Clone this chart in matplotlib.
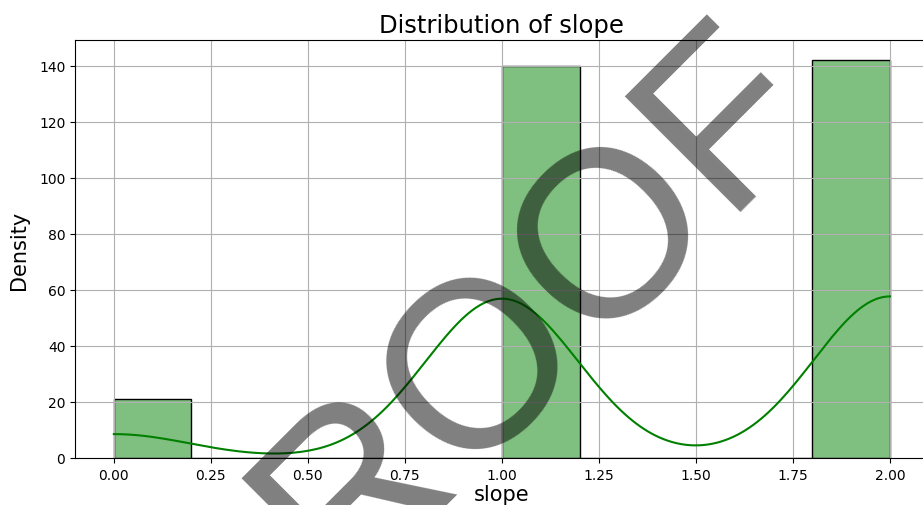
import numpy as np
import matplotlib
matplotlib.use("Agg")
import matplotlib.pyplot as plt
import seaborn as sns

# Observed slope values and how often each occurs
slope_values = [0.0, 1.0, 2.0]
slope_counts = [21, 140, 142]

title = "Distribution of slope"
x_label = "slope"
y_label = "Density"
stamp = "PROOF"

slope = np.repeat(slope_values, slope_counts)

fig = plt.figure(figsize=(9.23, 5.06), dpi=100)
ax = fig.add_axes([0.0813, 0.0929, 0.925, 0.826])

sns.histplot(x=slope, bins=10, kde=True, color="green", ax=ax)

ax.set_title(title, fontsize=17.5)
ax.set_xlabel(x_label, fontsize=15, labelpad=2)
ax.set_ylabel(y_label, fontsize=15, labelpad=7.5)
ax.grid(True)

# Diagonal stamp across the plot
fig.text(0.5699, 0.1956, stamp, fontsize=171, color="black", alpha=0.5,
         rotation=45, rotation_mode="anchor", ha="center", va="baseline",
         family="Liberation Sans", zorder=10)

fig.savefig("out.png", dpi=100)
